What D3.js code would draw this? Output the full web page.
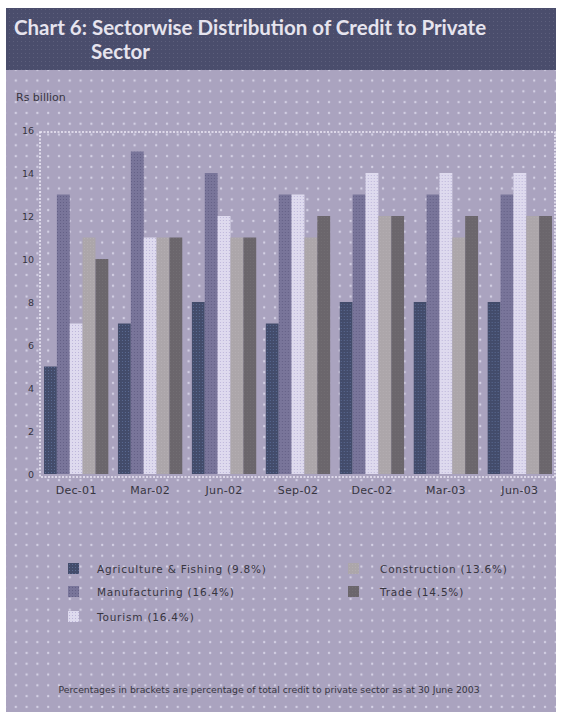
<!DOCTYPE html>
<html>
<head>
<meta charset="utf-8">
<script src="https://cdn.jsdelivr.net/npm/d3@7"></script>
<style>
  html, body { margin: 0; padding: 0; background: #ffffff; }
  svg { display: block; }
</style>
</head>
<body>
<svg id="chart" width="562" height="720"></svg>
<script>
// Quarter-end dates
const categories = ["Dec-01", "Mar-02", "Jun-02", "Sep-02", "Dec-02", "Mar-03", "Jun-03"];

// Credit outstanding by sector, Rs billion
const agriculture   = [5, 7, 8, 7, 8, 8, 8];
const manufacturing = [13, 15, 14, 13, 13, 13, 13];
const tourism       = [7, 11, 12, 13, 14, 14, 14];
const construction  = [11, 11, 11, 11, 12, 11, 12];
const trade         = [10, 11, 11, 12, 12, 12, 12];

const seriesNames = [
  "Agriculture & Fishing (9.8%)",
  "Manufacturing (16.4%)",
  "Tourism (16.4%)",
  "Construction (13.6%)",
  "Trade (14.5%)"
];
const yTicks = [0, 2, 4, 6, 8, 10, 12, 14, 16];

const seriesValues = [agriculture, manufacturing, tourism, construction, trade];
const seriesKeys = ["agri", "manu", "tour", "cons", "trad"];

const svg = d3.select("#chart");
const defs = svg.append("defs");

// Background dot texture
const bgPat = defs.append("pattern").attr("id", "bgdots")
  .attr("patternUnits", "userSpaceOnUse").attr("width", 10.8).attr("height", 10.8);
bgPat.append("rect").attr("width", 10.8).attr("height", 10.8).attr("fill", "#aaa3bf");
bgPat.append("circle").attr("cx", 5).attr("cy", 5).attr("r", 1.2).attr("fill", "#d4d0e4");

const titlePat = defs.append("pattern").attr("id", "titledots")
  .attr("patternUnits", "userSpaceOnUse").attr("width", 4).attr("height", 4);
titlePat.append("rect").attr("width", 4).attr("height", 4).attr("fill", "#4a4d6c");
titlePat.append("rect").attr("x", 1).attr("y", 1).attr("width", 1).attr("height", 1).attr("fill", "#5d5f7c");

// Bar textures
const barStyles = {
  agri: { base: "#434c6b", dot: "#5a6a92" },
  manu: { base: "#79759a", dot: "#646086" },
  tour: { base: "#dedaee", dot: "#bdb6da" },
  cons: { base: "#aca6aa", dot: "#b4aeb2" },
  trad: { base: "#6b666c", dot: "#726e73" }
};
Object.entries(barStyles).forEach(([k, s]) => {
  const p = defs.append("pattern").attr("id", "pat-" + k)
    .attr("patternUnits", "userSpaceOnUse").attr("width", 3).attr("height", 3);
  p.append("rect").attr("width", 3).attr("height", 3).attr("fill", s.base);
  p.append("rect").attr("x", 1).attr("y", 1).attr("width", 1).attr("height", 1).attr("fill", s.dot);
});

// Panel and title band
svg.append("rect").attr("x", 6).attr("y", 8).attr("width", 550).attr("height", 704)
  .attr("fill", "url(#bgdots)");
svg.append("rect").attr("x", 6).attr("y", 8).attr("width", 550).attr("height", 62)
  .attr("fill", "url(#titledots)");

const titleFont = "Lato, 'Open Sans', sans-serif";
svg.append("text").attr("x", 14).attr("y", 35)
  .attr("font-family", titleFont).attr("font-weight", 700).attr("font-size", 20.5)
  .attr("fill", "#e6e4ee")
  .text("Chart 6: Sectorwise Distribution of Credit to Private");
svg.append("text").attr("x", 91).attr("y", 59)
  .attr("font-family", titleFont).attr("font-weight", 700).attr("font-size", 20.5)
  .attr("fill", "#e6e4ee")
  .text("Sector");

// Scales
const x0 = d3.scaleBand().domain(categories).range([44, 552]).paddingInner(0.13).paddingOuter(0);
const x1 = d3.scaleBand().domain(seriesKeys).range([0, x0.bandwidth()]).padding(0);
const y = d3.scaleLinear().domain([0, 16]).range([474, 130]);

// Plot frame
svg.append("rect").attr("x", 40).attr("y", 132).attr("width", 515).attr("height", 345)
  .attr("fill", "none").attr("stroke", "#eeeaf8").attr("stroke-width", 1.6)
  .attr("stroke-dasharray", "2 1.5");

// Y axis
const labelFont = "'DejaVu Sans', sans-serif";
const textColor = "#37353f";
const yAxis = d3.axisLeft(y).tickValues(yTicks).tickSize(0).tickPadding(0);
const gy = svg.append("g").attr("transform", "translate(34,0)").call(yAxis);
gy.select(".domain").remove();
gy.selectAll("text").attr("font-family", labelFont).attr("font-size", 9.5).attr("fill", textColor);

svg.append("text").attr("x", 16).attr("y", 101)
  .attr("font-family", labelFont).attr("font-size", 11).attr("fill", textColor)
  .text("Rs billion");

// Bars
const groups = svg.append("g").selectAll("g")
  .data(categories)
  .join("g")
  .attr("transform", d => `translate(${x0(d)},0)`);

groups.selectAll("rect")
  .data((c, i) => seriesKeys.map((k, s) => ({ key: k, value: seriesValues[s][i] })))
  .join("rect")
  .attr("x", d => x1(d.key))
  .attr("y", d => y(d.value))
  .attr("width", x1.bandwidth())
  .attr("height", d => y(0) - y(d.value))
  .attr("fill", d => `url(#pat-${d.key})`);

// X axis labels
const xAxis = d3.axisBottom(x0).tickSize(0).tickPadding(0);
const gx = svg.append("g").attr("transform", "translate(0,486)").call(xAxis);
gx.select(".domain").remove();
gx.selectAll("text").attr("font-family", labelFont).attr("font-size", 11)
  .attr("letter-spacing", 0.3).attr("fill", textColor);

// Legend
const legendPos = [
  { x: 68, y: 563 },
  { x: 68, y: 586 },
  { x: 68, y: 611 },
  { x: 348, y: 563 },
  { x: 348, y: 586 }
];
const legend = svg.append("g").selectAll("g")
  .data(seriesKeys)
  .join("g")
  .attr("transform", (d, i) => `translate(${legendPos[i].x},${legendPos[i].y})`);
legend.append("rect").attr("width", 11).attr("height", 11)
  .attr("fill", d => `url(#pat-${d})`);
legend.append("text").attr("x", (d, i) => i < 3 ? 29 : 32).attr("y", 9.5)
  .attr("font-family", labelFont).attr("font-size", 10.5).attr("letter-spacing", 0.8)
  .attr("fill", textColor)
  .text((d, i) => seriesNames[i]);

// Footnote
svg.append("text").attr("x", 269).attr("y", 693).attr("text-anchor", "middle")
  .attr("font-family", labelFont).attr("font-size", 9.3).attr("fill", textColor)
  .text("Percentages in brackets are percentage of total credit to private sector as at 30 June 2003");
</script>
</body>
</html>
